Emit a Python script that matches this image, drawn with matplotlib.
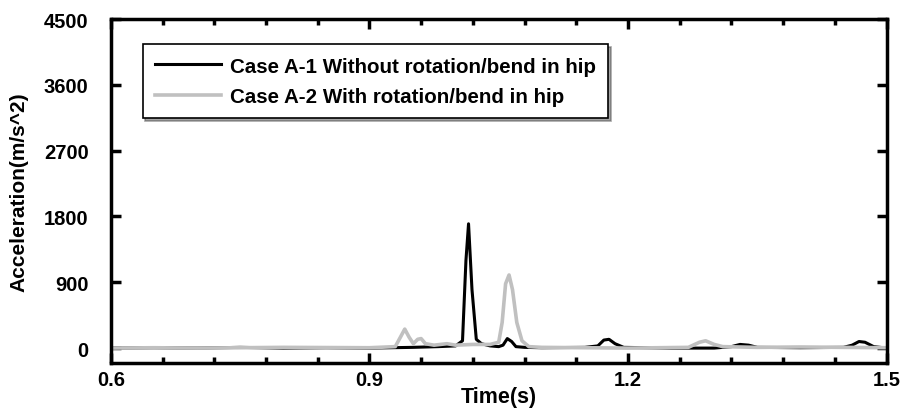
import numpy as np
import matplotlib
matplotlib.use('Agg')
import matplotlib.pyplot as plt
from matplotlib.ticker import MultipleLocator

# case A-1 : without rotation/bend in hip (black)
t_a1 = [0.60, 0.65, 0.70, 0.75, 0.80, 0.85, 0.90, 0.95, 0.98, 1.000, 1.008, 1.012,
        1.015, 1.019, 1.024, 1.030, 1.040, 1.050, 1.055, 1.060, 1.065, 1.070, 1.080,
        1.10, 1.15, 1.165, 1.172, 1.178, 1.185, 1.195, 1.25, 1.30, 1.32, 1.33, 1.34,
        1.35, 1.40, 1.45, 1.46, 1.468, 1.475, 1.485, 1.50]
acc_a1 = [0, 5, 0, 10, 0, 5, 0, 10, 20, 30, 100, 1200,
          1700, 800, 120, 60, 30, 20, 40, 130, 90, 20, 10,
          5, 10, 30, 110, 120, 60, 10, 0, 0, 20, 50, 40,
          10, 5, 10, 40, 90, 80, 20, 0]

# case A-2 : with rotation/bend in hip (gray)
t_a2 = [0.60, 0.65, 0.70, 0.80, 0.90, 0.930, 0.936, 0.941, 0.946, 0.951, 0.956, 0.960,
        0.965, 0.975, 0.990, 1.000, 1.020, 1.040, 1.050, 1.054, 1.058, 1.062, 1.066,
        1.071, 1.077, 1.085, 1.10, 1.20, 1.27, 1.283, 1.29, 1.30, 1.31, 1.35, 1.40,
        1.45, 1.50]
acc_a2 = [0, 5, 0, 10, 5, 20, 150, 260, 150, 60, 120, 130,
          60, 40, 60, 40, 50, 50, 80, 350, 880, 1000, 800,
          350, 100, 20, 10, 0, 10, 80, 100, 50, 20, 10, 15,
          10, 5]

plt.rcParams['font.family'] = 'Liberation Sans'
plt.rcParams['font.weight'] = 'bold'

fig = plt.figure(figsize=(9.01, 4.10), dpi=100)
ax = fig.add_axes([0.123, 0.112, 0.861, 0.839])

ax.plot(t_a1, acc_a1, color='black', lw=2.2, label='Case A-1 Without rotation/bend in hip')
ax.plot(t_a2, acc_a2, color='#c0c0c0', lw=2.6, label='Case A-2 With rotation/bend in hip')

ax.set_xlim(0.6, 1.5)
ax.set_ylim(-205, 4500)
ax.xaxis.set_minor_locator(MultipleLocator(0.06))
ax.yaxis.set_major_locator(MultipleLocator(900))
ax.set_xticks([0.6, 0.9, 1.2, 1.5])
ax.set_xticklabels(['0.6', '0.9', '1.2', '1.5'])

for s in ax.spines.values():
    s.set_linewidth(2.5)
ax.tick_params(which='major', direction='in', length=7, width=2.5, labelsize=14.5,
               top=True, right=True)
ax.tick_params(axis='y', which='major', pad=16)
ax.tick_params(axis='x', which='major', pad=5)
ax.tick_params(which='minor', direction='in', length=4, width=2.5, top=True)

ax.set_xlabel('Time(s)', fontsize=15.5, fontweight='bold', labelpad=-2)
ax.set_ylabel('Acceleration(m/s^2)', fontsize=15, fontweight='bold', labelpad=11)

leg = ax.legend(loc='upper left', bbox_to_anchor=(0.041, 0.927), fontsize=14.8,
                frameon=True, fancybox=False, shadow=True, edgecolor='black',
                handlelength=3.2, borderpad=0.6, labelspacing=0.55, handletextpad=0.45,
                borderaxespad=0)
leg.get_frame().set_linewidth(1.2)

fig.savefig('out.png', dpi=100)
